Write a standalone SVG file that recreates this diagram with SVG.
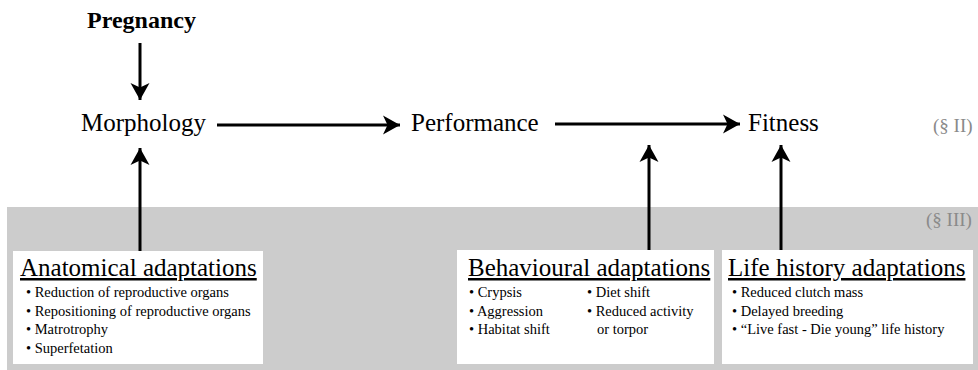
<svg xmlns="http://www.w3.org/2000/svg" width="978" height="370" viewBox="0 0 978 370">
<style>
text{font-family:'Liberation Serif','Times New Roman',Tinos,'DejaVu Serif',serif;fill:#000}
.main{font-size:25px}
.sec{font-size:19px;fill:#8a8a8a}
.title{font-size:25px;text-decoration:underline}
.item{font-size:14.5px}
.box{fill:#fff}
.conn line{stroke:#000;stroke-width:3;fill:none}
</style>
<defs>
<marker id="ah" markerUnits="userSpaceOnUse" markerWidth="20" markerHeight="20" viewBox="-18 -10 20 20" refX="0" refY="0" orient="auto">
<path d="M0,0 L-17,-9.5 L-12.5,0 L-17,9.5 Z" fill="#000"/>
</marker>
</defs>
<rect x="7" y="207" width="971" height="163" fill="#cccccc"/>
<text class="sec" x="933" y="132" font-family="Liberation Serif, serif">(§ II)</text>
<text class="sec" x="926" y="226" font-family="Liberation Serif, serif">(§ III)</text>
<g id="pregnancy"><text x="87" y="28" font-size="24" font-weight="bold" font-family="Liberation Serif, serif">Pregnancy</text></g>
<g id="morphology"><text class="main" x="81" y="131" font-family="Liberation Serif, serif">Morphology</text></g>
<g id="performance"><text class="main" x="411" y="131" font-family="Liberation Serif, serif">Performance</text></g>
<g id="fitness"><text class="main" x="748" y="131" font-family="Liberation Serif, serif">Fitness</text></g>
<g id="anatomical" font-family="Liberation Serif, serif">
<rect class="box" x="13" y="251" width="250" height="113"/>
<text class="title" x="20" y="276">Anatomical adaptations</text>
<text class="item" x="26" y="297">• Reduction of reproductive organs</text>
<text class="item" x="26" y="315.5">• Repositioning of reproductive organs</text>
<text class="item" x="26" y="334">• Matrotrophy</text>
<text class="item" x="26" y="352.5">• Superfetation</text>
</g>
<g id="behavioural">
<rect class="box" x="457" y="250" width="257" height="114"/>
<text class="title" x="468" y="276">Behavioural adaptations</text>
<text class="item" x="469" y="297">• Crypsis</text>
<text class="item" x="469" y="315.5">• Aggression</text>
<text class="item" x="469" y="334">• Habitat shift</text>
<text class="item" x="587" y="297">• Diet shift</text>
<text class="item" x="587" y="315.5">• Reduced activity</text>
<text class="item" x="597" y="334">or torpor</text>
</g>
<g id="lifehistory">
<rect class="box" x="722" y="250" width="251" height="114"/>
<text class="title" x="728" y="276">Life history adaptations</text>
<text class="item" x="732" y="297">• Reduced clutch mass</text>
<text class="item" x="732" y="315.5">• Delayed breeding</text>
<text class="item" x="732" y="334">• “Live fast - Die young” life history</text>
</g>
<g class="conn" id="connectors">
<line x1="140" y1="43" x2="140" y2="100" marker-end="url(#ah)"/>
<line x1="140" y1="251" x2="140" y2="148" marker-end="url(#ah)"/>
<line x1="217" y1="125" x2="400" y2="125" marker-end="url(#ah)"/>
<line x1="555" y1="124" x2="740" y2="124" marker-end="url(#ah)"/>
<line x1="649" y1="250" x2="649" y2="145" marker-end="url(#ah)"/>
<line x1="781" y1="250" x2="781" y2="145" marker-end="url(#ah)"/>
</g>
</svg>
